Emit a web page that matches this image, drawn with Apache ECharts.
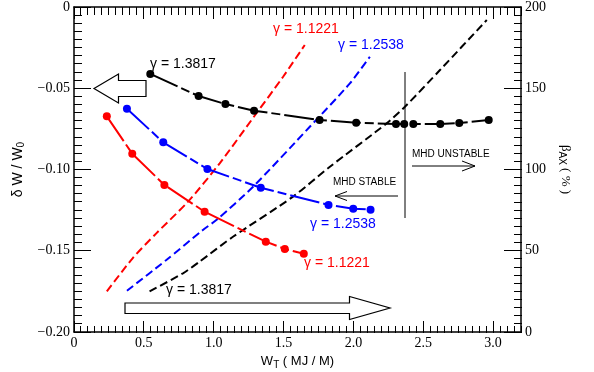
<!DOCTYPE html>
<html>
<head>
<meta charset="utf-8">
<script src="https://cdn.jsdelivr.net/npm/echarts@6/dist/echarts.min.js"></script>
<style>html,body{margin:0;padding:0;background:#fff}#c{width:594px;height:372px}</style>
</head>
<body>
<div id="c"></div>
<script>
// δW/W0 (left axis) series with markers
const blackX = [0.546, 0.892, 1.084, 1.289, 1.758, 2.020, 2.305, 2.364, 2.429, 2.622, 2.758, 2.969];
const blackY = [-0.0412, -0.0548, -0.0597, -0.0638, -0.0695, -0.0712, -0.0720, -0.0720, -0.0720, -0.0720, -0.0714, -0.0695];
const blueX = [0.379, 0.639, 0.955, 1.337, 1.822, 1.999, 2.123];
const blueY = [-0.0626, -0.0833, -0.0997, -0.1112, -0.1218, -0.1241, -0.1247];
const redX = [0.235, 0.417, 0.647, 0.935, 1.373, 1.509, 1.645];
const redY = [-0.0673, -0.0903, -0.1095, -0.1260, -0.1444, -0.1489, -0.1518];
// β_AX (%) (right axis) dashed curves
const redBX = [0.235, 0.421, 0.589, 0.816, 1.043, 1.306, 1.497, 1.652];
const redBV = [25.0, 45.5, 60.7, 80.2, 103.8, 134.6, 157.1, 176.6];
const blueBX = [0.379, 0.661, 0.923, 1.019, 1.282, 1.688, 1.975, 2.118];
const blueBV = [25.4, 44.3, 62.8, 68.9, 89.4, 126.3, 153.0, 169.4];
const blackBX = [0.541, 0.780, 0.899, 1.138, 1.568, 1.832, 2.238, 2.369, 2.620, 2.955];
const blackBV = [25.0, 36.1, 43.3, 58.6, 83.3, 101.7, 128.4, 138.6, 161.2, 192.0];
// axis ranges / tick steps
const xRange = [0, 3.2], xMajor = 0.5, xMinor = 0.05;
const yRange = [-0.2, 0], yMajor = 0.05, yMinor = 0.005;
const bRange = [0, 200], bMajor = 50, bMinor = 5;
const gammaLabels = ['γ = 1.1221', 'γ = 1.2538', 'γ = 1.3817'];

const zip = (a, b) => a.map((v, i) => [v, b[i]]);
const RED = '#ff0000', BLUE = '#0000ff', BLACK = '#000000';
const SERIF = 'Liberation Serif', SANS = 'Liberation Sans';

function ticks(range, step) {
  const out = [], n = Math.round((range[1] - range[0]) / step);
  for (let i = 0; i <= n; i++) out.push(+(range[0] + i * step).toFixed(6));
  return out;
}
function tickData(range, major, minor, lenMajor, lenMinor) {
  const ratio = Math.round(major / minor);
  return ticks(range, minor).map((v, i) => [v, i % ratio === 0 ? lenMajor : lenMinor]);
}

const sub = {fontSize: 10, fontFamily: SANS, color: '#000', padding: [7, 0, 0, 0]};

function xAxisCfg(pos) {
  const main = pos === 'bottom';
  const lineCfg = {show: true, lineStyle: {color: '#000', width: 1.5}};
  if (main) lineCfg.onZeroAxisIndex = 1;
  return {
    type: 'value', position: pos, min: xRange[0], max: xRange[1], interval: xMajor,
    axisLine: lineCfg,
    axisTick: {show: false},
    axisLabel: {show: main, margin: 4, color: '#000', fontFamily: SERIF, fontSize: 14, showMaxLabel: false,
      formatter: v => (v === 0 ? '0' : v.toFixed(1))},
    splitLine: {show: false},
    name: main ? '{a|W}{s|T}{a| ( MJ / M)}' : '', nameLocation: 'middle', nameGap: 12,
    nameTextStyle: {rich: {a: {fontSize: 13, fontFamily: SANS, color: '#000'}, s: sub}}
  };
}

const markerLine = (color, x, y) => ({
  type: 'line', xAxisIndex: 0, yAxisIndex: 0, data: zip(x, y),
  symbol: 'circle', symbolSize: 8, showSymbol: true,
  itemStyle: {color: color}, lineStyle: {color: color, width: 2, type: [30, 4, 9, 4]},
  animation: false, z: 3
});
const dashLine = (color, x, v) => ({
  type: 'line', xAxisIndex: 0, yAxisIndex: 1, data: zip(x, v), smooth: 0.25,
  symbol: 'none', lineStyle: {color: color, width: 2, type: [8, 4]}, animation: false, z: 2
});

const chart = echarts.init(document.getElementById('c'), null, {renderer: 'canvas'});

function txt(x, y, s, color, size, family, align) {
  return {type: 'text', x: x, y: y, z: 10,
    style: {text: s, fill: color, fontSize: size, fontFamily: family || SANS, textAlign: align || 'left', textVerticalAlign: 'middle'}};
}
function seg(x1, y1, x2, y2, w) {
  return {type: 'line', z: 10, shape: {x1: x1, y1: y1, x2: x2, y2: y2}, style: {stroke: '#000', lineWidth: w || 1}};
}
function poly(points) {
  return {type: 'polygon', z: 10, shape: {points: points}, style: {fill: '#fff', stroke: '#000', lineWidth: 1.2}};
}
function bar(x, y, w, h) {
  return {type: 'rect', z: 100, silent: true, shape: {x: x, y: y, width: w, height: h}, style: {fill: '#000'}};
}

chart.setOption({
  animation: false,
  grid: {left: 74, top: 7, width: 447, height: 325, outerBoundsMode: 'none', containLabel: false},
  xAxis: [xAxisCfg('bottom'), xAxisCfg('top')],
  yAxis: [
    {type: 'value', position: 'left', min: yRange[0], max: yRange[1], interval: yMajor,
      axisLine: {show: true, lineStyle: {color: '#000', width: 1.5}},
      axisTick: {show: false},
      axisLabel: {margin: 4, color: '#000', fontFamily: SERIF, fontSize: 14,
        formatter: v => (Math.abs(v) < 1e-9 ? '0' : '\u2212' + Math.abs(v).toFixed(2))},
      splitLine: {show: false},
      name: '{a|δ W / W}{s|0}', nameLocation: 'middle', nameGap: 47, nameRotate: 90,
      nameTextStyle: {rich: {a: {fontSize: 14, fontFamily: SANS, color: '#000'}, s: sub}}},
    {type: 'value', position: 'right', min: bRange[0], max: bRange[1], interval: bMajor,
      axisLine: {show: true, onZero: false, lineStyle: {color: '#000', width: 1.5}},
      axisTick: {show: false},
      axisLabel: {margin: 4, color: '#000', fontFamily: SERIF, fontSize: 14},
      splitLine: {show: false},
      name: '{b|β}{s|AX}{b| ( % )}', nameLocation: 'middle', nameGap: 36, nameRotate: -90,
      nameTextStyle: {rich: {b: {fontSize: 13, fontFamily: SERIF, color: '#000'}, s: sub}}}
  ],
  series: [
    dashLine(RED, redBX, redBV),
    dashLine(BLUE, blueBX, blueBV),
    dashLine(BLACK, blackBX, blackBV),
    markerLine(RED, redX, redY),
    markerLine(BLUE, blueX, blueY),
    markerLine(BLACK, blackX, blackY)
  ]
});

// tick marks as thin filled bars, positioned through the chart's own axes
const tickEls = [];
const px = v => chart.convertToPixel({xAxisIndex: 0}, v);
const pyL = v => chart.convertToPixel({yAxisIndex: 0}, v);
const pyR = v => chart.convertToPixel({yAxisIndex: 1}, v);
const xL = Math.floor(px(xRange[0])), xR = Math.floor(px(xRange[1]));
const yB = Math.floor(pyL(yRange[0])), yT = Math.floor(pyL(yRange[1]));
tickData(xRange, xMajor, xMinor, 12, 7).forEach(function (t) {
  tickEls.push(bar(Math.floor(px(t[0])), yB - t[1] + 1, 1, t[1]));
});
tickData(xRange, xMajor, xMinor, 12, 8).forEach(function (t) {
  tickEls.push(bar(Math.floor(px(t[0])), yT, 1, t[1]));
});
tickData(yRange, yMajor, yMinor, 17, 8).forEach(function (t) {
  tickEls.push(bar(xL, Math.floor(pyL(t[0])), t[1], 1));
});
tickData(bRange, bMajor, bMinor, 18, 8).forEach(function (t) {
  tickEls.push(bar(xR - t[1] + 1, Math.floor(pyR(t[0])), t[1], 1));
});

const annotations = [
  txt(150, 64, gammaLabels[2], BLACK, 14),
  txt(273, 29, gammaLabels[0], RED, 14),
  txt(338, 45, gammaLabels[1], BLUE, 14),
  txt(310, 224, gammaLabels[1], BLUE, 14),
  txt(304, 263, gammaLabels[0], RED, 14),
  txt(166, 290, gammaLabels[2], BLACK, 14),
  txt(412, 154, 'MHD UNSTABLE', '#000', 10),
  txt(333, 182, 'MHD STABLE', '#000', 10),
  seg(405, 72, 405, 218, 1),
  seg(412, 166, 475, 166, 1), seg(462, 161, 475, 166, 1), seg(462, 171, 475, 166, 1),
  seg(335, 196, 398, 196, 1), seg(335, 196, 347, 191.5, 1), seg(335, 196, 347, 200.5, 1),
  poly([[94, 88.5], [118.5, 74], [118.5, 80.5], [146, 80.5], [146, 96.5], [118.5, 96.5], [118.5, 103]]),
  poly([[125, 303], [349.5, 303], [349.5, 296.5], [390, 308], [349.5, 319.5], [349.5, 313.5], [125, 313.5]])
];
chart.setOption({graphic: annotations.concat(tickEls)});
</script>
</body>
</html>
